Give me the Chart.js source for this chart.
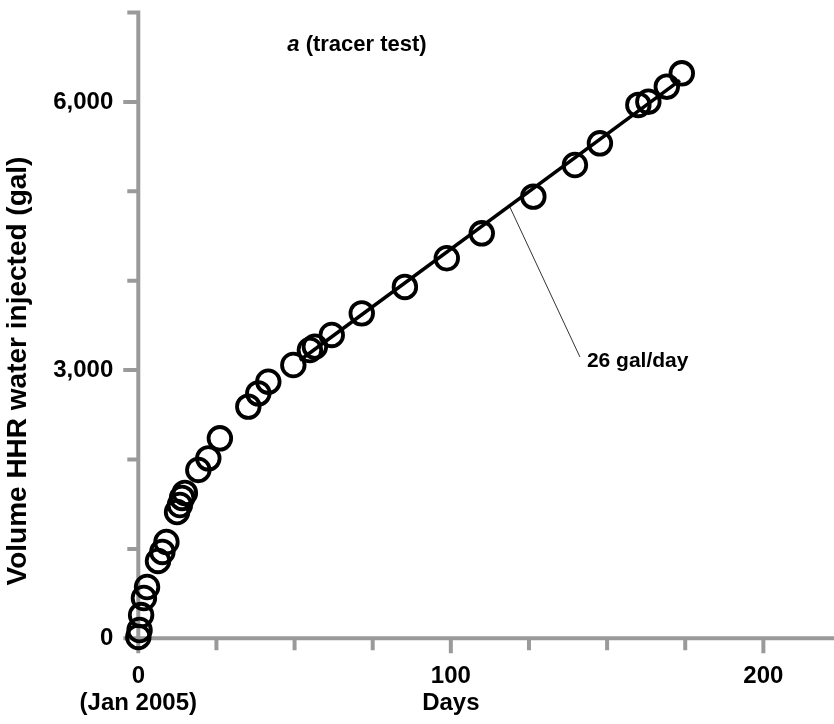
<!DOCTYPE html>
<html>
<head>
<meta charset="utf-8">
<script src="https://cdn.jsdelivr.net/npm/chart.js@4"></script>
<style>
  html, body { margin: 0; padding: 0; background: #fff; }
  #wrap { width: 834px; height: 724px; }
</style>
</head>
<body>
<div id="wrap"><canvas id="tracer-chart"></canvas></div>
<script>
const ctx = document.getElementById("tracer-chart");

// measured injection volumes (days since Jan 2005, gallons)
const days = [0, 0.4, 0.9, 1.8, 2.8, 6.3, 7.7, 9.0, 12.4, 13.3, 14.0, 14.9,
  19.2, 22.4, 26.1, 35.2, 38.4, 41.6, 49.6, 54.9, 56.5, 61.9, 71.5, 85.3,
  98.7, 109.9, 126.4, 139.7, 147.7, 160.0, 163.2, 169.1, 173.9];
const volume = [15, 93, 260, 451, 574, 865, 966, 1077, 1413, 1491, 1570, 1626,
  1883, 2013, 2237, 2591, 2740, 2870, 3057, 3225, 3262, 3393, 3635, 3930,
  4251, 4530, 4940, 5294, 5537, 5966, 6002, 6170, 6320];

// fitted rate line (26 gal/day)
const fitDays = [51.7, 173.3];
const fitVolume = [3110, 6240];

// thin leader from the line to the label
const leaderDays = [118.9, 141.3];
const leaderVolume = [4824, 3147];
const rateLabel = "26 gal/day";
const yTitle = "Volume HHR water injected (gal)";

// axes
const xTicks = [0, 25, 50, 75, 100, 125, 150, 175, 200];
const xMajor = [0, 100, 200];
const xLabels = { 0: ["0", "(Jan 2005)"], 100: ["100", "Days"], 200: ["200"] };
const yTicks = [0, 1000, 2000, 3000, 4000, 5000, 6000, 7000];
const yMajor = [0, 3000, 6000];
const yLabels = { 0: "0", 3000: "3,000", 6000: "6,000" };

const gray = "#9a9a9a";
const FONT = "'Liberation Sans', Arial, sans-serif";

const pts = (xs, ys) => xs.map((x, i) => ({ x: x, y: ys[i] }));

// gray axes with long/short ticks, drawn under the circles
const axesPlugin = {
  id: "axes",
  beforeDatasetsDraw(chart) {
    const c = chart.ctx;
    const xs = chart.scales.x, ys = chart.scales.y;
    const x0 = xs.getPixelForValue(0), y0 = ys.getPixelForValue(0);
    c.save();
    c.strokeStyle = gray;
    c.lineWidth = 4;
    c.beginPath();
    c.moveTo(x0, y0 + 2);
    c.lineTo(x0, ys.getPixelForValue(7000) - 2);
    c.moveTo(x0 - 2, y0);
    c.lineTo(chart.width, y0);
    xTicks.forEach(v => {
      const px = xs.getPixelForValue(v);
      c.moveTo(px, y0);
      c.lineTo(px, y0 + (xMajor.includes(v) ? 15 : 12));
    });
    yTicks.forEach(v => {
      const py = ys.getPixelForValue(v);
      c.moveTo(x0, py);
      c.lineTo(x0 - (yMajor.includes(v) ? 15 : 11), py);
    });
    c.stroke();
    c.restore();
  },
  afterDraw(chart) {
    const c = chart.ctx;
    const xs = chart.scales.x, ys = chart.scales.y;
    c.save();
    c.fillStyle = "#000";
    c.textBaseline = "middle";
    // title with italic "a"
    c.font = "italic bold 22px " + FONT;
    const wa = c.measureText("a").width;
    c.font = "bold 22px " + FONT;
    const rest = " (tracer test)";
    const wr = c.measureText(rest).width;
    const tx = 357 - (wa + wr) / 2;
    c.font = "italic bold 22px " + FONT;
    c.fillText("a", tx, 45);
    c.font = "bold 22px " + FONT;
    c.fillText(rest, tx + wa, 45);
    // rate label at the end of the leader
    c.font = "bold 21px " + FONT;
    const lx = xs.getPixelForValue(leaderDays[1]);
    const ly = ys.getPixelForValue(leaderVolume[1]);
    c.fillText(rateLabel, lx + 7, ly + 4);
    // y axis title
    c.translate(18, 371);
    c.rotate(-Math.PI / 2);
    c.textAlign = "center";
    c.font = "bold 28px " + FONT;
    c.fillText(yTitle, 0, 0);
    c.restore();
  }
};

new Chart(ctx, {
  type: "scatter",
  data: {
    datasets: [
      {
        data: pts(days, volume),
        pointRadius: 11.3,
        pointBorderWidth: 3.8,
        pointBorderColor: "#000",
        pointBackgroundColor: "rgba(0,0,0,0)",
        clip: false,
      },
      {
        type: "line",
        data: pts(fitDays, fitVolume),
        borderColor: "#000",
        borderWidth: 3.5,
        pointRadius: 0,
        clip: false,
      },
      {
        type: "line",
        data: pts(leaderDays, leaderVolume),
        borderColor: "#333",
        borderWidth: 1,
        pointRadius: 0,
        clip: false,
      },
    ],
  },
  options: {
    responsive: true,
    maintainAspectRatio: false,
    animation: false,
    layout: { autoPadding: false, padding: { top: 12.5, right: 0, left: 0, bottom: 0 } },
    plugins: {
      legend: { display: false },
      tooltip: { enabled: false },
    },
    scales: {
      x: {
        type: "linear",
        min: 0,
        max: 222.6,
        grid: { display: false, drawTicks: false },
        border: { display: false },
        afterBuildTicks: s => { s.ticks = xTicks.map(v => ({ value: v })); },
        ticks: {
          autoSkip: false,
          maxRotation: 0,
          padding: 25,
          color: "#000",
          font: { family: FONT, size: 24, weight: "bold", lineHeight: 1.125 },
          callback: v => xLabels[v] || "",
        },
        afterFit: s => { s.height = 85.7; s.paddingLeft = 0; s.paddingRight = 0; },
      },
      y: {
        type: "linear",
        min: 0,
        max: 7000,
        grid: { display: false, drawTicks: false },
        border: { display: false },
        afterBuildTicks: s => { s.ticks = yTicks.map(v => ({ value: v })); },
        ticks: {
          autoSkip: false,
          padding: 25,
          color: "#000",
          font: { family: FONT, size: 24, weight: "bold" },
          callback: v => yLabels[v] || "",
        },
        afterFit: s => { s.width = 138.3; s.paddingTop = 0; s.paddingBottom = 0; },
      },
    },
  },
  plugins: [axesPlugin],
});
</script>
</body>
</html>
